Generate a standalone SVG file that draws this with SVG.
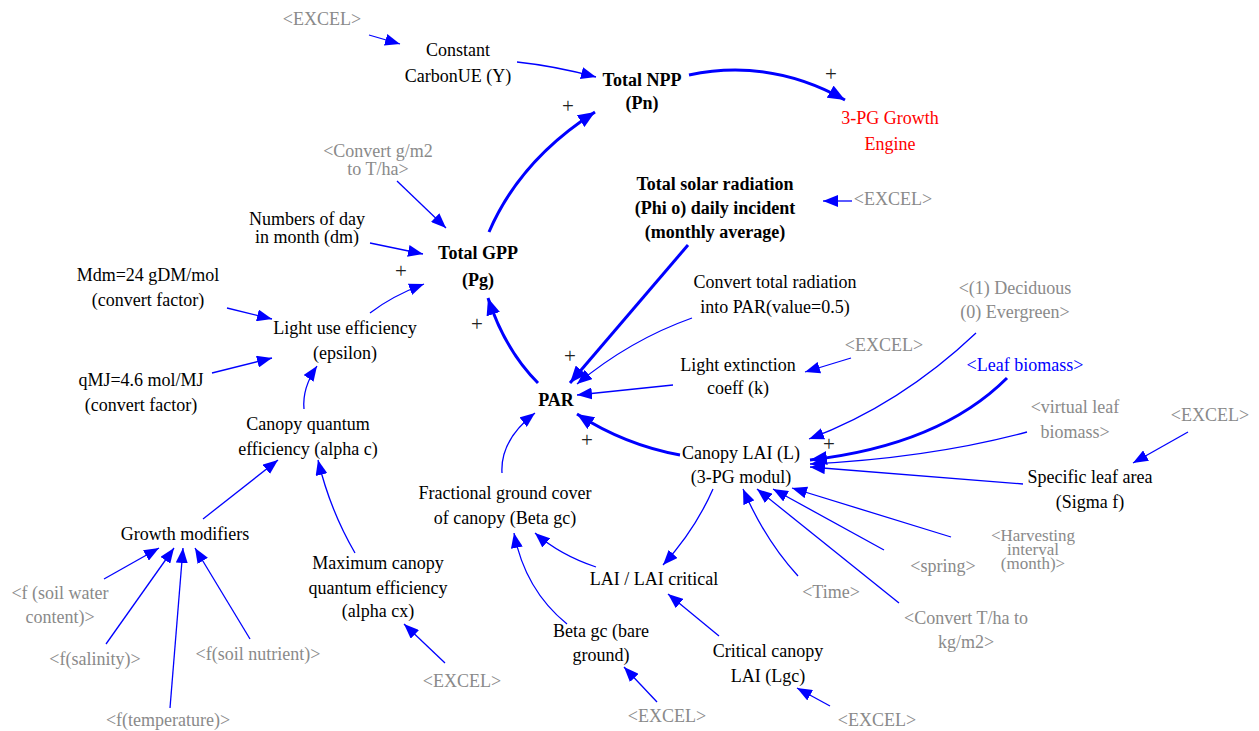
<svg xmlns="http://www.w3.org/2000/svg" width="1259" height="731" viewBox="0 0 1259 731">
<defs>
<style>
text{font-family:"Liberation Serif","Times New Roman","DejaVu Serif",serif;font-size:18px;text-anchor:middle;fill:#000}
.g{fill:#8a8a8a}
.b{font-weight:bold}
.r{fill:#ff0000}
.bl{fill:#0000ff}
.p{font-size:21px;fill:#222}
.h{font-size:17px}
.c{fill:none;stroke:#0000ff;stroke-width:1.3;marker-end:url(#ah)}
.t{fill:none;stroke:#0000ff;stroke-width:3;marker-end:url(#aht)}
</style>
<marker id="ah" markerUnits="userSpaceOnUse" markerWidth="16" markerHeight="12" refX="15" refY="6" orient="auto"><path d="M0,0 L15,6 L0,12 z" fill="#0000ff"/></marker>
<marker id="aht" markerUnits="userSpaceOnUse" markerWidth="18" markerHeight="14" refX="17" refY="7" orient="auto"><path d="M0,0 L17,7 L0,14 z" fill="#0000ff"/></marker>
</defs>
<rect width="1259" height="731" fill="#fff"/>
<g id="connectors">
<path class="c" d="M369,35 L400,44"/>
<path class="c" d="M517,62 Q555,66 596,77"/>
<path class="t" d="M489,232 Q520,160 595,112"/>
<path class="t" d="M689,75 Q770,58 845,100"/>
<path class="c" d="M397,181 L446,228"/>
<path class="c" d="M370,243 L423,254"/>
<path class="c" d="M370,313 Q392,296 424,284"/>
<path class="c" d="M227,308 L272,319"/>
<path class="c" d="M212,373 L272,358"/>
<path class="c" d="M304,409 Q302,388 317,366"/>
<path class="c" d="M203,519 L278,460"/>
<path class="c" d="M355,553 Q330,510 318,460"/>
<path class="c" d="M104,579 L159,548"/>
<path class="c" d="M106,644 L174,548"/>
<path class="c" d="M170,708 L183,548"/>
<path class="c" d="M250,639 L195,548"/>
<path class="c" d="M445,663 L404,624"/>
<path class="t" d="M538,383 Q505,350 488,298"/>
<path class="t" d="M688,245 L570,383"/>
<path class="c" d="M692,318 Q630,340 577,384"/>
<path class="c" d="M673,385 L577,395"/>
<path class="c" d="M851,358 L805,372"/>
<path class="c" d="M852,201 L823,201"/>
<path class="c" d="M502,473 Q500,440 535,413"/>
<path class="t" d="M680,455 Q625,445 577,414"/>
<path class="c" d="M976,333 Q900,405 809,439"/>
<path class="t" d="M1007,378 Q940,445 810,460"/>
<path class="c" d="M1027,432 Q930,458 810,464"/>
<path class="c" d="M1023,484 L810,467"/>
<path class="c" d="M1188,432 L1133,463"/>
<path class="c" d="M951,537 L792,488"/>
<path class="c" d="M884,550 L773,489"/>
<path class="c" d="M899,603 L757,489"/>
<path class="c" d="M798,576 Q765,540 743,489"/>
<path class="c" d="M713,489 Q695,530 663,565"/>
<path class="c" d="M596,567 Q560,555 535,533"/>
<path class="c" d="M567,624 Q525,590 514,533"/>
<path class="c" d="M719,636 L668,594"/>
<path class="c" d="M657,702 L624,667"/>
<path class="c" d="M830,706 L797,688"/>
</g>
<g id="plus">
<text class="p" x="831" y="81">+</text>
<text class="p" x="568" y="113">+</text>
<text class="p" x="401" y="278">+</text>
<text class="p" x="477" y="331">+</text>
<text class="p" x="570" y="363">+</text>
<text class="p" x="587" y="447">+</text>
<text class="p" x="829" y="451">+</text>
</g>
<g id="excel1"><text class="g" x="322" y="25">&lt;EXCEL&gt;</text></g>
<g id="constant"><text x="458" y="56">Constant</text><text x="458" y="82">CarbonUE (Y)</text></g>
<g id="npp"><text class="b" x="642" y="86">Total NPP</text><text class="b" x="642" y="109">(Pn)</text></g>
<g id="engine"><text class="r" x="890" y="124">3-PG Growth</text><text class="r" x="890" y="150">Engine</text></g>
<g id="convgm2"><text class="g" x="378" y="157">&lt;Convert g/m2</text><text class="g" x="378" y="175">to T/ha&gt;</text></g>
<g id="numdays"><text x="307" y="225">Numbers of day</text><text x="307" y="243">in month (dm)</text></g>
<g id="gpp"><text class="b" x="478" y="259">Total GPP</text><text class="b" x="478" y="286">(Pg)</text></g>
<g id="mdm"><text x="148" y="281">Mdm=24 gDM/mol</text><text x="148" y="306">(convert factor)</text></g>
<g id="lue"><text x="345" y="334">Light use efficiency</text><text x="345" y="359">(epsilon)</text></g>
<g id="qmj"><text x="141" y="386">qMJ=4.6 mol/MJ</text><text x="141" y="411">(convert factor)</text></g>
<g id="cqe"><text x="308" y="430">Canopy quantum</text><text x="308" y="455">efficiency (alpha c)</text></g>
<g id="solar"><text class="b" x="715" y="190">Total solar radiation</text><text class="b" x="715" y="214">(Phi o) daily incident</text><text class="b" x="715" y="238">(monthly average)</text></g>
<g id="excel2"><text class="g" x="893" y="205">&lt;EXCEL&gt;</text></g>
<g id="convpar"><text x="775" y="288">Convert total radiation</text><text x="775" y="313">into PAR(value=0.5)</text></g>
<g id="decid"><text class="g" x="1015" y="294">&lt;(1) Deciduous</text><text class="g" x="1015" y="318">(0) Evergreen&gt;</text></g>
<g id="lightext"><text x="738" y="371">Light extinction</text><text x="738" y="394">coeff (k)</text></g>
<g id="excel3"><text class="g" x="884" y="351">&lt;EXCEL&gt;</text></g>
<g id="par"><text class="b" x="556" y="406">PAR</text></g>
<g id="leafbio"><text class="bl" x="1025" y="371">&lt;Leaf biomass&gt;</text></g>
<g id="virtleaf"><text class="g" x="1075" y="413">&lt;virtual leaf</text><text class="g" x="1075" y="438">biomass&gt;</text></g>
<g id="excel4"><text class="g" x="1210" y="421">&lt;EXCEL&gt;</text></g>
<g id="lai"><text x="741" y="459">Canopy LAI (L)</text><text x="741" y="483">(3-PG modul)</text></g>
<g id="sla"><text x="1090" y="483">Specific leaf area</text><text x="1090" y="508">(Sigma f)</text></g>
<g id="fgc"><text x="505" y="499">Fractional ground cover</text><text x="505" y="524">of canopy (Beta gc)</text></g>
<g id="growth"><text x="185" y="540">Growth modifiers</text></g>
<g id="harvest"><text class="g h" x="1033" y="541">&lt;Harvesting</text><text class="g h" x="1033" y="555">interval</text><text class="g h" x="1033" y="569">(month)&gt;</text></g>
<g id="spring"><text class="g" x="943" y="572">&lt;spring&gt;</text></g>
<g id="laicrit"><text x="654" y="585">LAI / LAI critical</text></g>
<g id="maxcqe"><text x="378" y="569">Maximum canopy</text><text x="378" y="594">quantum efficiency</text><text x="378" y="617">(alpha cx)</text></g>
<g id="fsw"><text class="g" x="60" y="599">&lt;f (soil water</text><text class="g" x="60" y="623">content)&gt;</text></g>
<g id="time"><text class="g" x="831" y="598">&lt;Time&gt;</text></g>
<g id="convtha"><text class="g" x="966" y="624">&lt;Convert T/ha to</text><text class="g" x="966" y="648">kg/m2&gt;</text></g>
<g id="betabare"><text x="601" y="637">Beta gc (bare</text><text x="601" y="661">ground)</text></g>
<g id="critlai"><text x="768" y="657">Critical canopy</text><text x="768" y="682">LAI (Lgc)</text></g>
<g id="fsal"><text class="g" x="95" y="665">&lt;f(salinity)&gt;</text></g>
<g id="fnut"><text class="g" x="258" y="660">&lt;f(soil nutrient)&gt;</text></g>
<g id="excel5"><text class="g" x="462" y="687">&lt;EXCEL&gt;</text></g>
<g id="excel6"><text class="g" x="667" y="722">&lt;EXCEL&gt;</text></g>
<g id="excel7"><text class="g" x="877" y="726">&lt;EXCEL&gt;</text></g>
<g id="ftemp"><text class="g" x="168" y="726">&lt;f(temperature)&gt;</text></g>
</svg>
